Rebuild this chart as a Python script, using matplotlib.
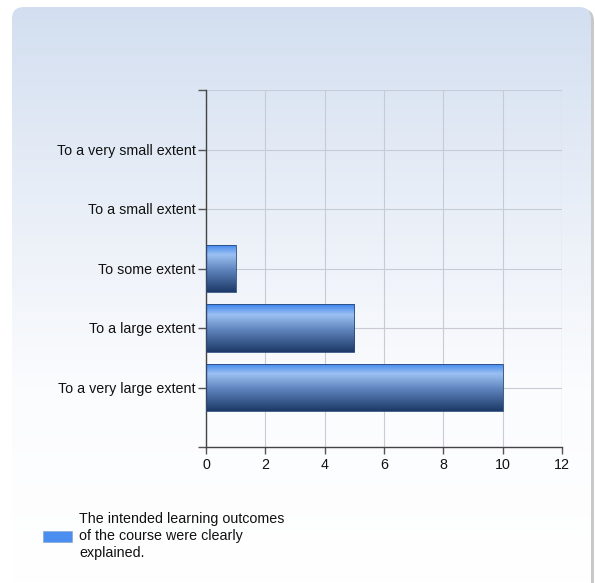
import matplotlib.pyplot as plt
import numpy as np
from matplotlib.patches import FancyBboxPatch, Rectangle
from matplotlib.colors import LinearSegmentedColormap

plt.rcParams['font.family'] = ['Liberation Sans', 'DejaVu Sans']

categories = ["To a very small extent", "To a small extent", "To some extent",
              "To a large extent", "To a very large extent"]
counts = [0, 0, 1, 5, 10]
series_name = "The intended learning outcomes\nof the course were clearly\nexplained."

W, H = 595, 583
fig = plt.figure(figsize=(W / 100, H / 100), dpi=100)

# background panel with rounded corners and a vertical gradient
bg = fig.add_axes([0, 0, 1, 1])
bg.set_xlim(0, W)
bg.set_ylim(H, 0)
bg.axis('off')
shadow = FancyBboxPatch((15, 9), 579, 600, boxstyle="round,pad=0,rounding_size=12",
                        fc='#c8c8c8', ec='none', transform=bg.transData)
bg.add_patch(shadow)
panel = FancyBboxPatch((12, 7), 579, 600, boxstyle="round,pad=0,rounding_size=12",
                       fc='none', ec='none', transform=bg.transData)
bg.add_patch(panel)
grad = LinearSegmentedColormap.from_list('bg', ['#d2def0', '#e8eef7', '#fbfcfe', '#ffffff'])
g = np.linspace(0, 1, 256).reshape(-1, 1)
im = bg.imshow(g, cmap=grad, extent=[0, W, H, 0], aspect='auto', zorder=1)
im.set_clip_path(panel)

# bar chart
ax = fig.add_axes([206 / W, 1 - 447 / H, (562 - 206) / W, (447 - 90) / H])
ax.patch.set_alpha(0)
pos = np.arange(1, len(categories) + 1)
ax.set_xlim(0, 12)
ax.set_ylim(6, 0)
ax.set_xticks(range(0, 13, 2))
ax.set_yticks(pos)
ax.set_yticklabels(categories)
ax.set_yticks([0, 6], minor=True)
ax.tick_params(axis='y', which='both', length=6, width=1, color='#555555',
               labelsize=10.3, pad=1.5, labelcolor='#111111')
ax.tick_params(axis='x', length=5, width=1, color='#555555', labelsize=10.3,
               labelcolor='#111111', pad=3)
ax.grid(True, color='#c6cbd5', linewidth=0.8)
ax.set_axisbelow(True)
for s in ['top', 'right']:
    ax.spines[s].set_visible(False)
for s in ['left', 'bottom']:
    ax.spines[s].set_color('#444444')
    ax.spines[s].set_linewidth(1)
ax.plot([0, 12], [0, 0], color='#c6cbd5', lw=0.8, zorder=0)
ax.plot([12, 12], [0, 6], color='#c6cbd5', lw=0.8, zorder=0)

bar_cmap = LinearSegmentedColormap.from_list(
    'bar', [(0, '#3f86ee'), (0.22, '#9cc0f2'), (0.55, '#5d82bb'), (1, '#1d3a68')])
bars = ax.barh(pos, counts, height=0.8, color='none', edgecolor='none')
for b, v in zip(bars, counts):
    if v <= 0:
        continue
    x0, y0, w, h = b.get_x(), b.get_y(), b.get_width(), b.get_height()
    img = ax.imshow(np.linspace(0, 1, 100).reshape(-1, 1), cmap=bar_cmap,
                    extent=[x0, x0 + w, y0 + h, y0], aspect='auto', zorder=2)
    img.set_clip_path(b)
    ax.add_patch(Rectangle((x0, y0), w, h, fc='none', ec='#2a4a7a', lw=0.6, zorder=3))
ax.set_xlim(0, 12)
ax.set_ylim(6, 0)

# legend
bg.add_patch(Rectangle((43, 531), 29, 11, fc='#4a8ef0', ec='#8aa8d0', lw=0.5, zorder=3))
bg.text(79, 536, series_name, fontsize=10.3, color='#111111', va='center', ha='left',
        linespacing=1.25, zorder=3)

fig.savefig('out.png', dpi=100)
